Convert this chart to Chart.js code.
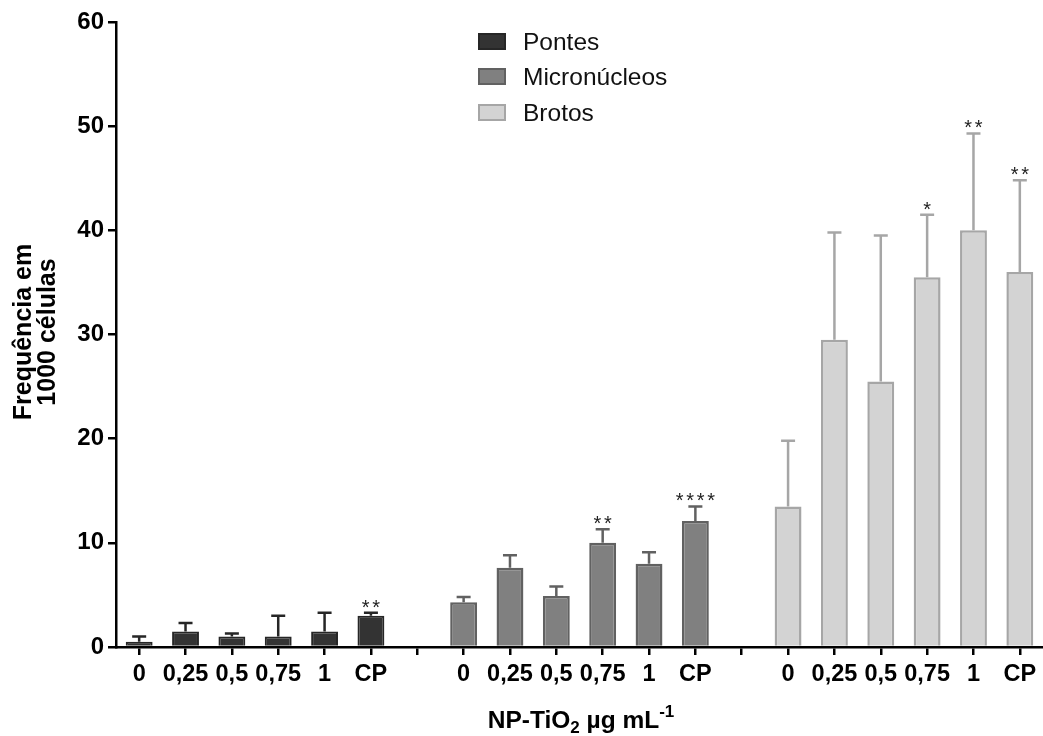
<!DOCTYPE html>
<html>
<head>
<meta charset="utf-8">
<script src="https://cdn.jsdelivr.net/npm/chart.js@4"></script>
<style>
  html, body { margin: 0; padding: 0; background: #fff; }
  #wrap { width: 1043px; height: 736px; }
</style>
</head>
<body>
<div id="wrap"><canvas id="chart"></canvas></div>
<script>
// doses de NP-TiO2 (µg/mL) e controle positivo
const doses = ["0", "0,25", "0,5", "0,75", "1", "CP"];
const seriesNames = ["Pontes", "Micronúcleos", "Brotos"];

const pontes = [0.5, 1.5, 1.0, 1.0, 1.5, 3.0];
const pontesErr = [0.5, 0.8, 0.3, 2.0, 1.8, 0.3];
const pontesSig = ["", "", "", "", "", "**"];

const micro = [4.3, 7.6, 4.9, 10.0, 8.0, 12.1];
const microErr = [0.5, 1.2, 0.9, 1.3, 1.1, 1.4];
const microSig = ["", "", "", "**", "", "****"];

const brotos = [13.5, 29.5, 25.5, 35.5, 40.0, 36.0];
const brotosErr = [6.3, 10.3, 14.0, 6.0, 9.3, 8.8];
const brotosSig = ["", "", "", "*", "**", "**"];

const yTicks = [0, 10, 20, 30, 40, 50, 60];

// 6 doses + vazio + 6 doses + vazio + 6 doses
const labels = doses.concat([""], doses, [""], doses);

function place(values, group) {
  const out = new Array(labels.length).fill(null);
  values.forEach((v, i) => { out[group * 7 + i] = v; });
  return out;
}

const FONT = "'Liberation Sans', Arial, sans-serif";

const errorBars = {
  id: "errorBars",
  afterDatasetsDraw(chart) {
    const ctx = chart.ctx;
    const y = chart.scales.y;
    chart.data.datasets.forEach((ds, d) => {
      const meta = chart.getDatasetMeta(d);
      ds.data.forEach((v, i) => {
        if (v === null) return;
        const el = meta.data[i];
        const err = ds.errors[i];
        const top = y.getPixelForValue(v + err);
        ctx.save();
        ctx.strokeStyle = ds.errColor;
        ctx.lineWidth = 2.5;
        ctx.beginPath();
        ctx.moveTo(el.x, el.y);
        ctx.lineTo(el.x, top);
        ctx.moveTo(el.x - 7, top);
        ctx.lineTo(el.x + 7, top);
        ctx.stroke();
        const s = ds.sig[i];
        if (s) {
          // asteriscos com espaçamento como no original
          ctx.fillStyle = "#222";
          ctx.font = "20px " + FONT;
          ctx.textAlign = "center";
          ctx.textBaseline = "alphabetic";
          const gap = 10.5;
          const x0 = el.x - (s.length - 1) * gap / 2;
          for (let k = 0; k < s.length; k++) {
            ctx.fillText("*", x0 + k * gap, top + 1);
          }
        }
        ctx.restore();
      });
    });
  }
};

const extras = {
  id: "extras",
  afterDraw(chart) {
    const ctx = chart.ctx;
    ctx.save();
    // legenda
    const ys = [42, 77, 113];
    chart.data.datasets.forEach((ds, d) => {
      const cy = ys[d];
      ctx.fillStyle = ds.backgroundColor;
      ctx.fillRect(478, cy - 9, 28, 17);
      ctx.strokeStyle = ds.borderColor;
      ctx.lineWidth = 2;
      ctx.strokeRect(479, cy - 8, 26, 15);
      ctx.fillStyle = "#111";
      ctx.font = "24.5px " + FONT;
      ctx.textBaseline = "middle";
      ctx.textAlign = "left";
      ctx.fillText(ds.label, 523, cy + 1);
    });

    // título do eixo y
    ctx.save();
    ctx.translate(0, 332);
    ctx.rotate(-Math.PI / 2);
    ctx.fillStyle = "#000";
    ctx.font = "bold 25px " + FONT;
    ctx.textAlign = "center";
    ctx.textBaseline = "alphabetic";
    ctx.fillText("Frequência em", 0, 31);
    ctx.fillText("1000 células", 0, 55);
    ctx.restore();

    // título do eixo x: NP-TiO2 µg mL-1
    const big = "bold 24.5px " + FONT;
    const small = "bold 17px " + FONT;
    const parts = [
      { t: "NP-TiO", f: big, dy: 0 },
      { t: "2", f: small, dy: 5 },
      { t: " µg mL", f: big, dy: 0 },
      { t: "-1", f: small, dy: -11 }
    ];
    let w = 0;
    parts.forEach(p => { ctx.font = p.f; w += ctx.measureText(p.t).width; });
    let x = 581 - w / 2;
    ctx.fillStyle = "#000";
    ctx.textAlign = "left";
    ctx.textBaseline = "alphabetic";
    parts.forEach(p => {
      ctx.font = p.f;
      ctx.fillText(p.t, x, 728 + p.dy);
      x += ctx.measureText(p.t).width;
    });
    ctx.restore();
  }
};

new Chart(document.getElementById("chart"), {
  type: "bar",
  data: {
    labels: labels,
    datasets: [
      {
        label: seriesNames[0],
        data: place(pontes, 0),
        errors: place(pontesErr, 0),
        sig: place(pontesSig, 0),
        backgroundColor: "#333333",
        borderColor: "#262626",
        errColor: "#262626",
        borderWidth: 2
      },
      {
        label: seriesNames[1],
        data: place(micro, 1),
        errors: place(microErr, 1),
        sig: place(microSig, 1),
        backgroundColor: "#808080",
        borderColor: "#616161",
        errColor: "#616161",
        borderWidth: 2.5
      },
      {
        label: seriesNames[2],
        data: place(brotos, 2),
        errors: place(brotosErr, 2),
        sig: place(brotosSig, 2),
        backgroundColor: "#d3d3d3",
        borderColor: "#a6a6a6",
        errColor: "#a6a6a6",
        borderWidth: 2.5
      }
    ]
  },
  options: {
    responsive: true,
    maintainAspectRatio: false,
    animation: false,
    layout: { padding: { top: 22, right: 0, left: 0, bottom: 0 } },
    datasets: {
      bar: { grouped: false, barPercentage: 0.58, categoryPercentage: 1.0 }
    },
    plugins: {
      legend: { display: false },
      tooltip: { enabled: false }
    },
    scales: {
      x: {
        afterFit(scale) { scale.height = 89; },
        grid: {
          offset: false,
          drawOnChartArea: false,
          drawTicks: true,
          tickLength: 8,
          color: "#000",
          lineWidth: 2.5
        },
        border: { color: "#000", width: 2.5 },
        ticks: {
          autoSkip: false,
          maxRotation: 0,
          minRotation: 0,
          color: "#000",
          padding: 5,
          font: { family: FONT, size: 23.5, weight: "bold" }
        }
      },
      y: {
        min: 0,
        max: 60,
        afterFit(scale) { scale.width = 116; },
        afterBuildTicks(scale) { scale.ticks = yTicks.map(v => ({ value: v })); },
        grid: {
          drawOnChartArea: false,
          drawTicks: true,
          tickLength: 8,
          color: "#000",
          lineWidth: 2.5
        },
        border: { color: "#000", width: 2.5 },
        ticks: {
          color: "#000",
          padding: 4,
          font: { family: FONT, size: 24, weight: "bold" }
        }
      }
    }
  },
  plugins: [errorBars, extras]
});
</script>
</body>
</html>
